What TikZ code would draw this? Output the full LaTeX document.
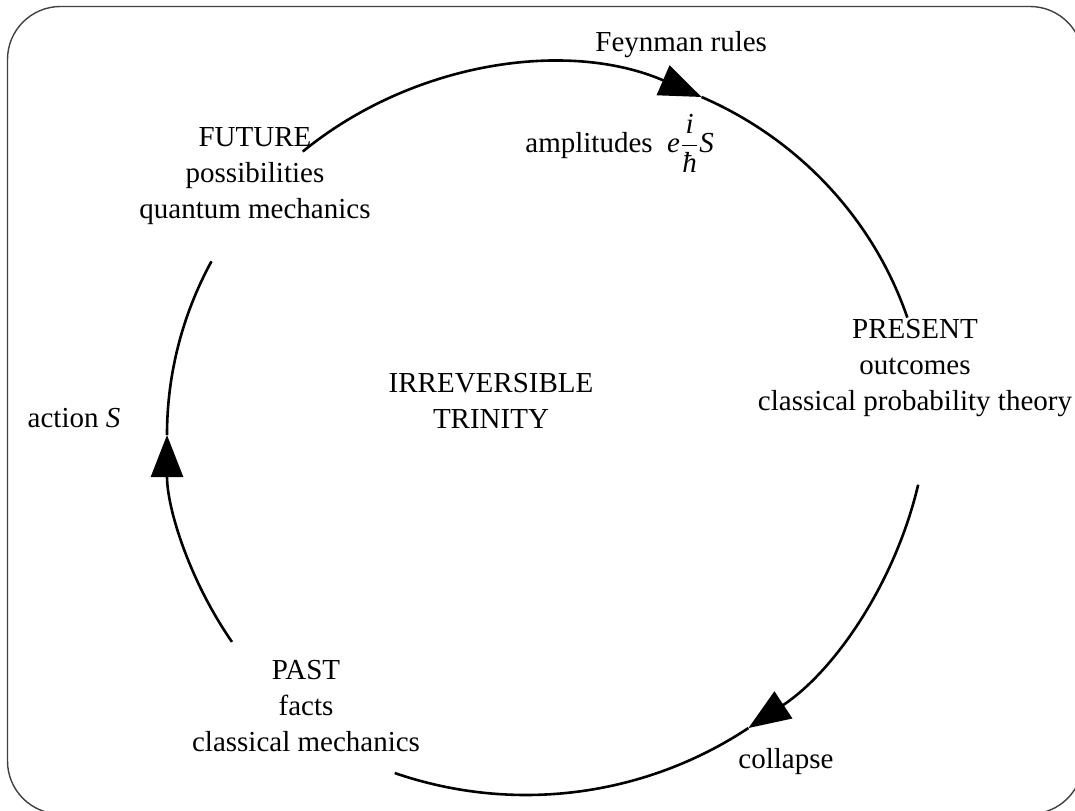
\documentclass[tikz,border=0pt]{standalone}
\usepackage{fontspec}
\setmainfont{Liberation Serif}
\usetikzlibrary{arrows.meta,calc}

\begin{document}
\begin{tikzpicture}[x=0.5pt,y=0.5pt,
  lbl/.style={font=\fontsize{14.5}{18}\selectfont, align=center, inner sep=0pt},
  cyc/.style={line width=1.3pt},
  tip/.style={-{Triangle[length=21pt,width=16pt]}},
  er/.style={x radius=190pt, y radius=185pt},
  cr/.style={radius=201.5pt}]
\useasboundingbox (0,0) rectangle (1075,810);
\clip (0,0) rectangle (1075,810);

% outer frame
\draw[line width=0.7pt, black!75, rounded corners=26.5pt] (7.5,803.5) rectangle (1083,-4);

% centres of the arcs of the cycle
\coordinate (C) at (547,375);
\coordinate (D) at (526,418);

% labels
\node[lbl] (future) at (255,634) {FUTURE\\possibilities\\quantum mechanics};
\node[lbl] (present) at (915,442) {PRESENT\\outcomes\\classical probability theory};
\node[lbl] (past) at (306,104) {PAST\\facts\\classical mechanics};
\node[lbl] (trinity) at (491,409) {IRREVERSIBLE\\TRINITY};
\node[lbl, anchor=base west] (feyn) at (595,758) {Feynman rules};
\node[lbl, anchor=base west] (ampl) at (525,657) {amplitudes\ \ \textit{e}$\displaystyle\frac{\hbox{\itshape i}}{\hbox{\itshape ħ}}$\textit{S}};
\node[lbl] (action) at (74,392) {action \textit{S}};
\node[lbl, anchor=base west] (collapse) at (738,42) {collapse};

% end points of the three arcs of the cycle
\coordinate (f1) at ($(C)+(130:380 and 370)$);
\coordinate (t1) at ($(C)+(66:380 and 370)$);
\coordinate (p1) at ($(D)+(-13.3:403)$);
\coordinate (t2) at ($(D)+(-56.5:403)$);
\coordinate (q1) at ($(C)+(214:380 and 370)$);
\coordinate (t3) at ($(C)+(180:380 and 370)$);

% future -> present
\draw[cyc, tip] (f1) arc[start angle=130, end angle=66, er];
\draw[cyc] (t1) arc[start angle=66, end angle=18.5, er];
% present -> past
\draw[cyc, tip] (p1) arc[start angle=-13.3, end angle=-56.5, cr];
\draw[cyc] (t2) arc[start angle=-56.5, end angle=-109, cr];
% past -> future
\draw[cyc, tip] (q1) arc[start angle=214, end angle=180, er];
\draw[cyc] (t3) arc[start angle=180, end angle=152, er];
\end{tikzpicture}
\end{document}
